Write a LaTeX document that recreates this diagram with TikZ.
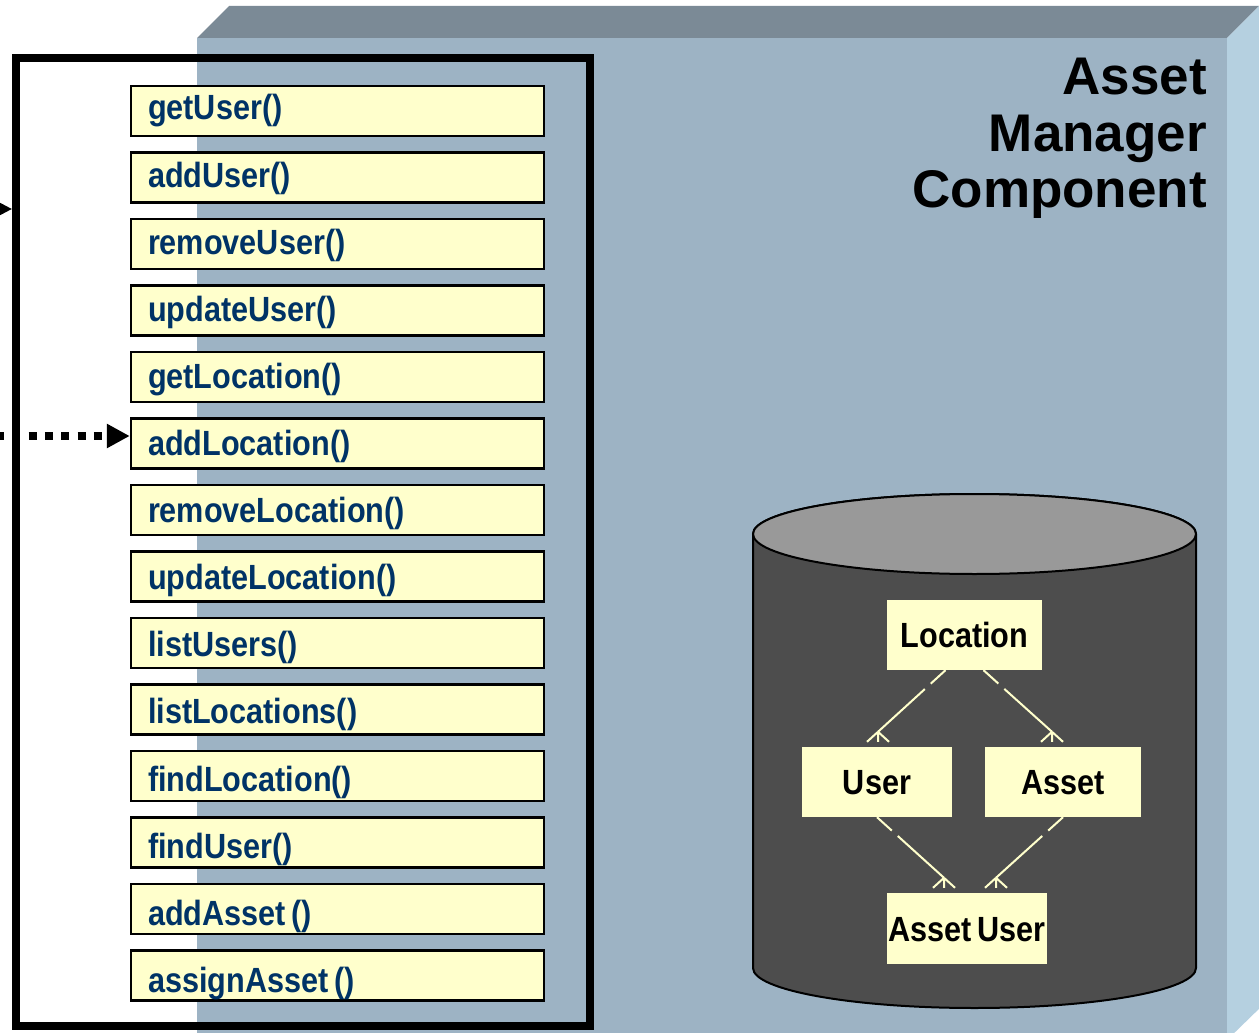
\documentclass[tikz,border=0pt]{standalone}
\usepackage{fontspec}
\usepackage{tikz}
\usetikzlibrary{arrows.meta}
\usetikzlibrary{calc}

\newfontfamily\narrowbf[FakeStretch=0.875,WordSpace=0.7]{Liberation Sans Bold}
\newfontfamily\titlebf{Liberation Sans Bold}

\definecolor{facefront}{HTML}{9DB3C4}
\definecolor{facetop}{HTML}{7B8A96}
\definecolor{faceside}{HTML}{B5D0E0}
\definecolor{notefill}{HTML}{FFFFCC}
\definecolor{methodtext}{HTML}{003366}
\definecolor{cylbody}{HTML}{4D4D4D}
\definecolor{cyltop}{HTML}{999999}

\tikzset{
  method/.style={draw=black, line width=2.5pt, fill=notefill, minimum width=413pt,
    minimum height=50pt, inner xsep=17pt, inner ysep=0pt,
    text=methodtext, text depth=0pt,
    font=\narrowbf\fontsize{35}{40}\selectfont},
  entity/.style={fill=notefill, inner sep=0pt, text height=25pt, text depth=0pt,
    minimum height=70pt, font=\narrowbf\fontsize{35}{40}\selectfont},
  erline/.style={draw=notefill, line width=2pt},
  erdash/.style={erline, dash pattern=on 20pt off 8pt on 1000pt},
  tip/.style={-{Triangle[length=23pt,width=23pt]}}
}

\newcommand\crowfoot[1]{\draw[erline] (#1) -- ++(-11,10) (#1) -- ++(0,10) (#1) -- ++(11,10);}

\begin{document}
\begin{tikzpicture}[x=1pt,y=-1pt]
    \useasboundingbox (0,0) rectangle (1259,1033);
    \clip (0,0) rectangle (1259,1033);

    \fill[facefront] (197,38) rectangle (1227,1045);
    \fill[facetop] (197,38) -- (229,6) -- (1259,6) -- (1227,38) -- cycle;
    \fill[faceside] (1227,38) -- (1265,0) -- (1265,1003) -- (1227,1040) -- cycle;

    \node[draw, line width=8pt, minimum width=574pt, minimum height=968pt, inner sep=0pt] (frame) at (303,542) {};

    \foreach \mname [count=\i from 0] in {getUser(), addUser(), removeUser(), updateUser(),
        getLocation(), addLocation(), removeLocation(), updateLocation(), listUsers(),
        listLocations(), findLocation(), findUser(), addAsset (), assignAsset ()} {
      \pgfmathsetmacro\th{18+1.2*\i}
      \node[method, text height=\th pt] (m\i) at (337.5,{111+66.5*\i}) {\makebox[379pt][l]{\mname}};
    }

    \coordinate (in1) at (-30,209);
    \coordinate (in2) at (-4,436);
    \draw[line width=4pt, tip] (in1) -- (in1 -| frame.west);
    \draw[line width=8pt, dash pattern=on 8pt off 8.3pt, tip] (in2) -- (in2 -| m5.west);

    \draw[line width=2pt, fill=cylbody] (753,534) -- (753,968)
      arc[start angle=180, end angle=360, x radius=221.5pt, y radius=40pt] -- (1196,534)
      arc[start angle=0, end angle=180, x radius=221.5pt, y radius=40pt] -- cycle;
    \draw[line width=2pt, fill=cyltop] (974.5,534) ellipse [x radius=221.5pt, y radius=40pt];

    \node[entity, minimum width=155pt] (loc) at (964.5,635) {Location};
    \node[entity, minimum width=150pt] (user) at (877,782) {User};
    \node[entity, minimum width=156pt] (asset) at (1063,782) {Asset};
    \node[entity, minimum width=160pt, minimum height=71pt] (assetuser) at (967,928.5) {Asset User};

    \coordinate (f1) at ([xshift=1pt,yshift=15pt]user.north);
    \coordinate (f2) at ([xshift=-11pt,yshift=15pt]asset.north);
    \coordinate (f3) at ([xshift=-23pt,yshift=15pt]assetuser.north);
    \coordinate (f4) at ([xshift=29pt,yshift=15pt]assetuser.north);
    \draw[erdash] ([xshift=-19pt]loc.south) -- (f1);
    \draw[erdash] ([xshift=19pt]loc.south) -- (f2);
    \draw[erdash] (user.south) -- (f3);
    \draw[erdash] (asset.south) -- (f4);
    \crowfoot{f1}
    \crowfoot{f2}
    \crowfoot{f3}
    \crowfoot{f4}

    \node[anchor=north east, align=right, inner sep=0pt, font=\titlebf\fontsize{53}{56.5}\selectfont] (title) at (1207,58) {Asset\\Manager\\Component};
\end{tikzpicture}
\end{document}
